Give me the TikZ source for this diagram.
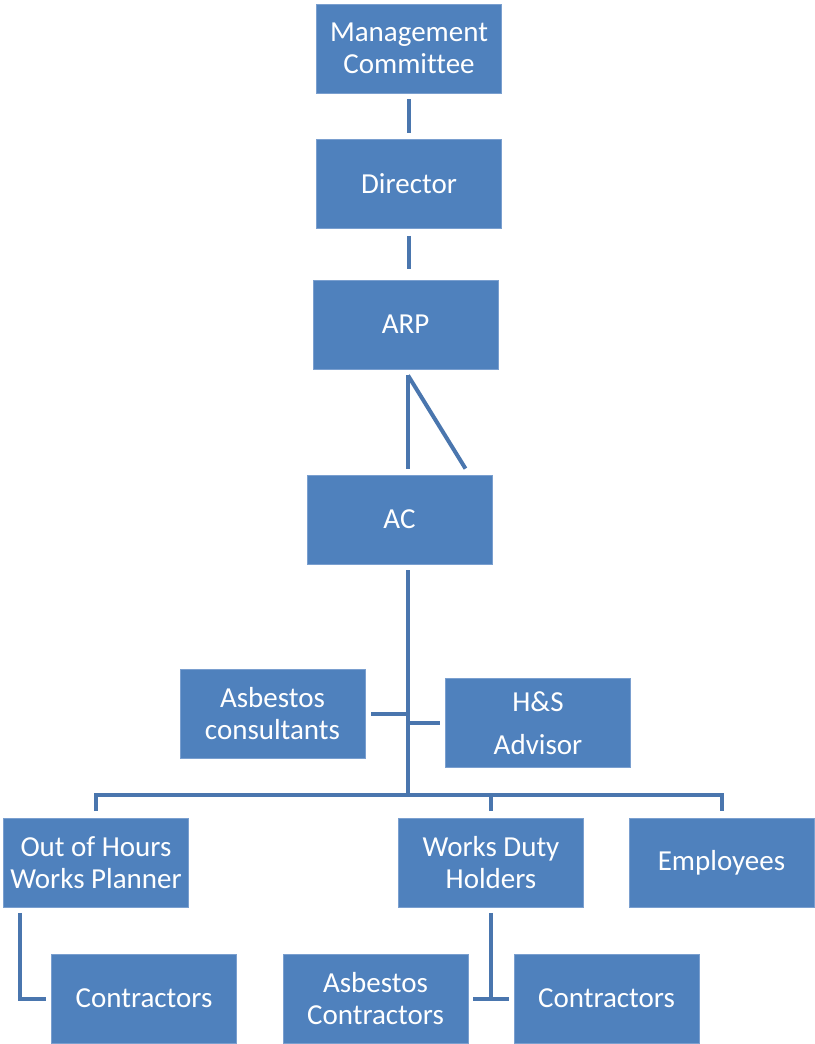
\documentclass[tikz,border=0pt]{standalone}
\usepackage{fontspec}
\setmainfont{Carlito}[Ligatures=NoCommon]
\usetikzlibrary{calc}
\definecolor{boxfill}{HTML}{4F81BD}
\definecolor{boxedge}{HTML}{7A9FCF}
\definecolor{linkcol}{HTML}{4A76AE}
\begin{document}
\begin{tikzpicture}[x=1pt,y=-1pt,
  orgbox/.style={draw=boxedge, line width=0.8pt, fill=boxfill, text=white,
    minimum width=185pt, minimum height=89pt, inner sep=0pt, align=center,
    font=\fontsize{29}{32}\selectfont},
  link/.style={draw=linkcol, line width=4pt}]
\useasboundingbox (0,0) rectangle (814,1044);

% boxes
\node[orgbox] (mc)   at (409,48.5)  {Management\\Committee};
\node[orgbox] (dir)  at (409,184)   {Director};
\node[orgbox] (arp)  at (405.5,324.5) {ARP};
\node[orgbox] (ac)   at (399.5,519.5) {AC};
\node[orgbox] (acon) at (272.5,713.5) {Asbestos\\consultants};
\node[orgbox] (hs)   at (538,723)   {H\&S\\[11pt]Advisor};
\node[orgbox] (ooh)  at (96,863)    {Out of Hours\\Works Planner};
\node[orgbox] (wdh)  at (491,863)   {Works Duty\\Holders};
\node[orgbox] (emp)  at (721.5,863) {Employees};
\node[orgbox] (cl)   at (144,998.5) {Contractors};
\node[orgbox] (acl)  at (375.5,998.5) {Asbestos\\Contractors};
\node[orgbox] (cr)   at (606.5,998.5) {Contractors};

% junction points
\coordinate (bus) at (408,795);
\coordinate (jac) at (408,713.5);
\coordinate (jhs) at (408,723);

% top chain
\draw[link] ($(mc.south)+(0,6)$) -- ($(dir.north)+(0,-6)$);
\draw[link] ($(dir.south)+(0,7)$) -- ($(dir.south)+(0,40)$);
\draw[link] ($(arp.south)+(2.5,6)$) -- ($(ac.north)+(8.5,-6)$);
\draw[link] ($(arp.south)+(2.5,6)$) -- ($(ac.north)+(66,-6)$);

% AC trunk and side advisers
\draw[link] ($(ac.south)+(8.5,6)$) -- (bus);
\draw[link] ($(acon.east)+(6,0)$) -- (jac);
\draw[link] (jhs) -- ($(hs.west)+(-5,0)$);

% bus to the third row
\draw[link] ($(ooh.north)+(0,-7)$) |- (bus) -| ($(emp.north)+(0.5,-7)$);
\draw[link] ($(wdh.north)+(0,-7)$) -- (wdh.north |- bus);

% bottom row
\draw[link] ($(ooh.south west)+(17,5)$) |- ($(cl.west)+(-5,0)$);
\draw[link] ($(wdh.south)+(0,5)$) -- (wdh.south |- cr.west);
\draw[link] ($(acl.east)+(5,0)$) -- ($(cr.west)+(-5,0)$);
\end{tikzpicture}
\end{document}
